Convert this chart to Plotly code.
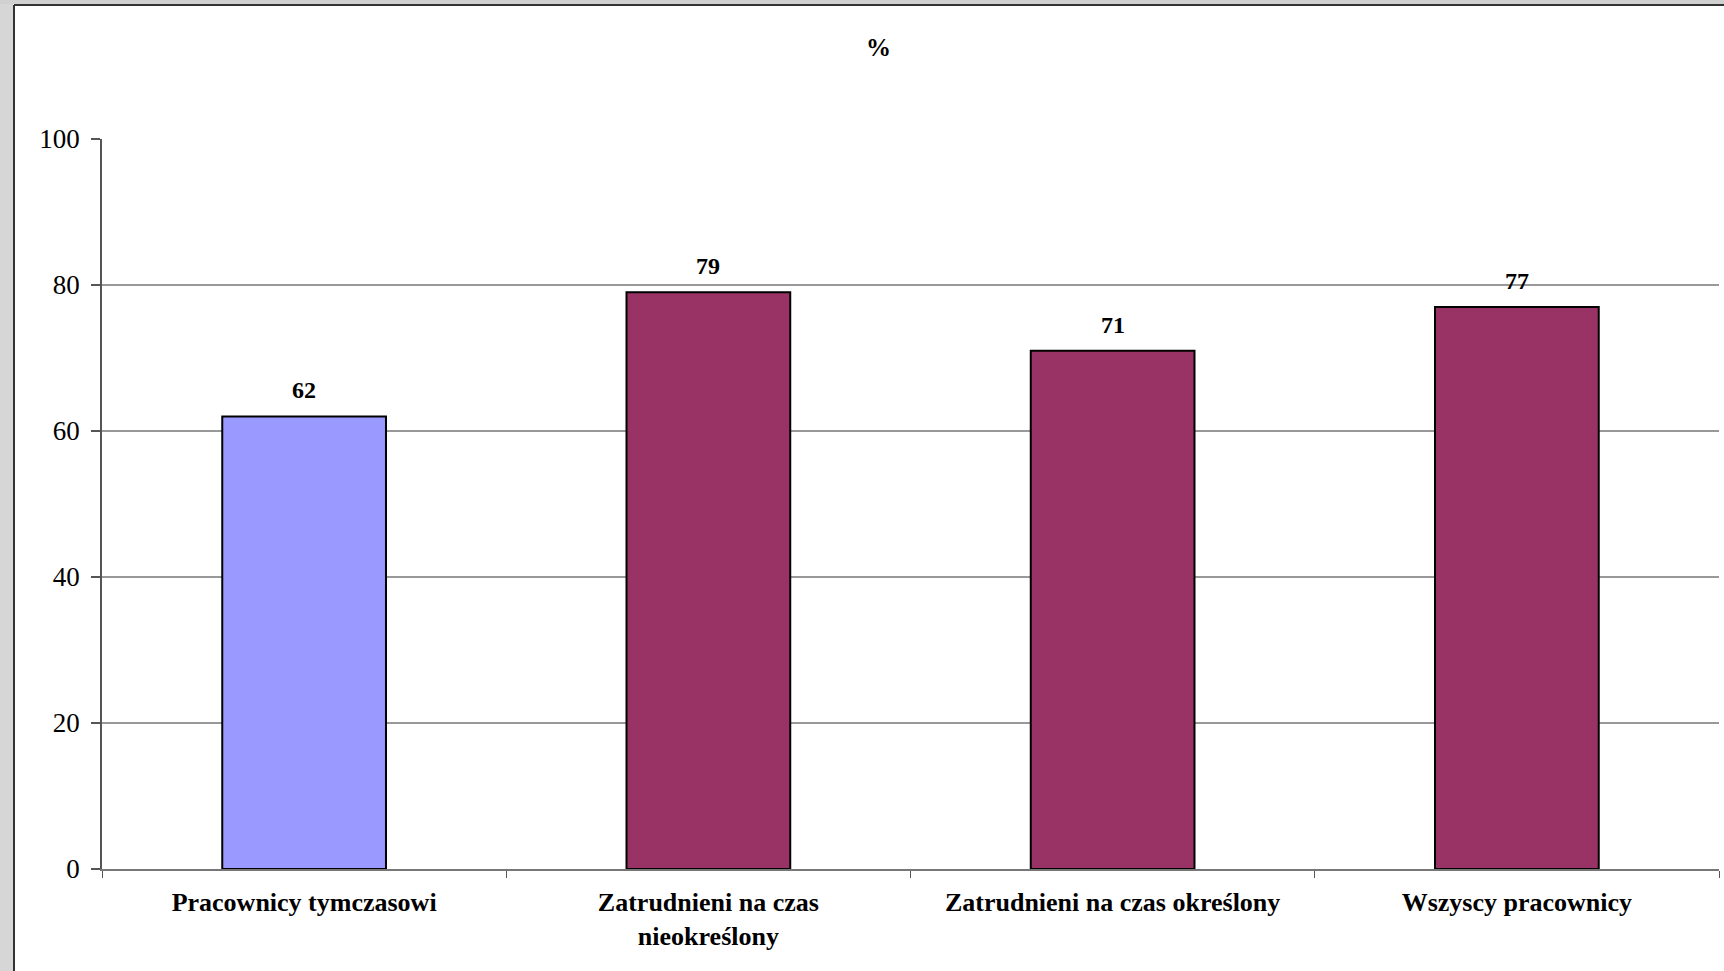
import plotly.graph_objects as go

categories = ["Pracownicy tymczasowi", "Zatrudnieni na czas<br>nieokreślony",
              "Zatrudnieni na czas określony", "Wszyscy pracownicy"]
values = [62, 79, 71, 77]
bar_colors = ["#9999FF", "#993366", "#993366", "#993366"]
y_ticks = [0, 20, 40, 60, 80, 100]
grid_values = [20, 40, 60, 80]
title_text = "%"

W, H = 1724, 971
L, R, T, B = 102, 1719, 139, 869

def px(x):
    return (x - L) / (R - L)

def py(y):
    return (B - y) / (B - T)

serif = "Liberation Serif, Times New Roman, serif"

fig = go.Figure()
fig.add_trace(go.Bar(
    x=categories, y=values, width=0.405,
    marker=dict(color=bar_colors, line=dict(color="#000000", width=2)),
    hoverinfo="skip",
))

for c, v in zip(categories, values):
    fig.add_annotation(x=c, y=v, text="<b>%d</b>" % v, showarrow=False,
                       yanchor="middle", yshift=26,
                       font=dict(family=serif, size=24, color="#000000"))

shapes = []
for g in grid_values:
    shapes.append(dict(type="line", xref="paper", yref="y", x0=0, x1=1, y0=g, y1=g,
                       line=dict(color="#333333", width=1), layer="below"))
# gray frame at left and top
shapes.append(dict(type="rect", xref="paper", yref="paper", x0=px(0), x1=px(13),
                   y0=py(H), y1=py(0), fillcolor="#d6d6d6", line=dict(width=0), layer="above"))
shapes.append(dict(type="rect", xref="paper", yref="paper", x0=px(0), x1=px(W),
                   y0=py(4), y1=py(0), fillcolor="#d0d0d0", line=dict(width=0), layer="above"))
shapes.append(dict(type="line", xref="paper", yref="paper", x0=px(14), x1=px(14),
                   y0=py(H), y1=py(5), line=dict(color="#333333", width=2)))
shapes.append(dict(type="line", xref="paper", yref="paper", x0=px(14), x1=px(W),
                   y0=py(5), y1=py(5), line=dict(color="#333333", width=2)))

fig.update_layout(
    width=W, height=H,
    margin=dict(l=L, r=W - R, t=T, b=H - B, pad=0),
    paper_bgcolor="#ffffff", plot_bgcolor="#ffffff",
    showlegend=False,
    shapes=shapes,
    bargap=0.6,
    annotations=list(fig.layout.annotations) + [dict(
        xref="paper", yref="paper", x=px(878), y=py(48), text="<b>%s</b>" % title_text,
        showarrow=False, xanchor="center", yanchor="middle",
        font=dict(family=serif, size=25, color="#000000"))],
)
fig.update_xaxes(
    type="category", showgrid=False, showline=True, linecolor="#777777", linewidth=2,
    ticks="outside", tickson="boundaries", ticklen=7, tickcolor="#555555", tickwidth=1,
    tickfont=dict(family=serif, size=26, color="#000000", weight="bold"),
    ticklabelstandoff=9, zeroline=False, fixedrange=True,
)
fig.update_yaxes(
    range=[0, 100], tickvals=y_ticks, showgrid=False, showline=True,
    linecolor="#555555", linewidth=1.5, ticks="outside", ticklen=9,
    tickcolor="#555555", tickwidth=1.5,
    tickfont=dict(family=serif, size=27, color="#000000"),
    ticklabelstandoff=6, zeroline=False, fixedrange=True,
)

fig.write_html("out.html", config={"displayModeBar": False})
